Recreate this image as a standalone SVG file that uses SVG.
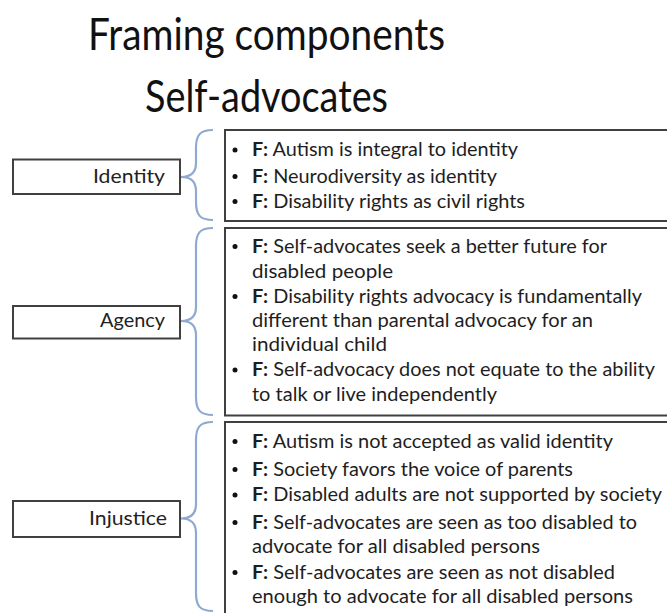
<svg xmlns="http://www.w3.org/2000/svg" width="667" height="613" viewBox="0 0 667 613">
<defs>
<style>
.title{font-family:Lato,"Liberation Sans",sans-serif;font-size:45px;fill:#111;text-anchor:middle}
.lbl{font-family:Lato,"Liberation Sans",sans-serif;font-size:19px;fill:#222;text-anchor:end}
.t{font-family:Lato,"Liberation Sans",sans-serif;font-size:19.5px;fill:#1e1e1e}
.b{font-weight:bold}
.box{fill:#fff;stroke:#404040;stroke-width:2}
.brace{fill:none;stroke:#8EAAD0;stroke-width:2.2}
.dot{fill:#111}
</style>
</defs>
<rect width="667" height="613" fill="#fff"/>
<g id="title">
<text class="title" x="266.5" y="50" textLength="357" lengthAdjust="spacingAndGlyphs">Framing components</text>
<text class="title" x="266.5" y="112" textLength="243" lengthAdjust="spacingAndGlyphs">Self-advocates</text>
</g>
<g id="connectors">
<path class="brace" d="M213 130 C200 130 196 135 196 148 L196 163 C196 173 190 177 181 177 C190 177 196 181 196 191 L196 202 C196 215 200 220 213 220"/>
<path class="brace" d="M213 228 C200 228 196 233 196 246 L196 307 C196 317 190 321 181 321 C190 321 196 325 196 335 L196 397 C196 410 200 415 213 415"/>
<path class="brace" d="M213 422 C200 422 196 427 196 440 L196 504 C196 514 190 518.5 181 518.5 C190 518.5 196 523 196 533 L196 593 C196 606 200 611 213 611"/>
</g>
<g id="identity-label">
<rect class="box" x="13" y="159.5" width="167" height="34.5"/>
<text class="lbl" x="165" y="183" textLength="72" lengthAdjust="spacingAndGlyphs">Identity</text>
</g>
<g id="identity-frames">
<rect class="box" x="225" y="130" width="460" height="91"/>
<circle class="dot" cx="235" cy="150" r="2.5"/>
<circle class="dot" cx="235" cy="176.5" r="2.5"/>
<circle class="dot" cx="235" cy="201.5" r="2.5"/>
<text class="t" x="252" y="156" textLength="266" lengthAdjust="spacingAndGlyphs"><tspan class="b">F:</tspan> Autism is integral to identity</text>
<text class="t" x="252" y="182.5" textLength="245" lengthAdjust="spacingAndGlyphs"><tspan class="b">F:</tspan> Neurodiversity as identity</text>
<text class="t" x="252" y="207.5" textLength="273" lengthAdjust="spacingAndGlyphs"><tspan class="b">F:</tspan> Disability rights as civil rights</text>
</g>
<g id="agency-label">
<rect class="box" x="13" y="306" width="167" height="32.5"/>
<text class="lbl" x="165" y="327" textLength="65" lengthAdjust="spacingAndGlyphs">Agency</text>
</g>
<g id="agency-frames">
<rect class="box" x="225" y="228" width="460" height="187.5"/>
<circle class="dot" cx="235" cy="246.5" r="2.5"/>
<circle class="dot" cx="235" cy="296.5" r="2.5"/>
<circle class="dot" cx="235" cy="370" r="2.5"/>
<text class="t" x="252" y="252.5" textLength="355" lengthAdjust="spacingAndGlyphs"><tspan class="b">F:</tspan> Self-advocates seek a better future for</text>
<text class="t" x="252" y="277.5" textLength="141" lengthAdjust="spacingAndGlyphs">disabled people</text>
<text class="t" x="252" y="302.5" textLength="390" lengthAdjust="spacingAndGlyphs"><tspan class="b">F:</tspan> Disability rights advocacy is fundamentally</text>
<text class="t" x="252" y="326.5" textLength="341" lengthAdjust="spacingAndGlyphs">different than parental advocacy for an</text>
<text class="t" x="252" y="351" textLength="135" lengthAdjust="spacingAndGlyphs">individual child</text>
<text class="t" x="252" y="376" textLength="403" lengthAdjust="spacingAndGlyphs"><tspan class="b">F:</tspan> Self-advocacy does not equate to the ability</text>
<text class="t" x="252" y="401" textLength="245" lengthAdjust="spacingAndGlyphs">to talk or live independently</text>
</g>
<g id="injustice-label">
<rect class="box" x="13" y="501" width="167" height="36"/>
<text class="lbl" x="167" y="525" textLength="78" lengthAdjust="spacingAndGlyphs">Injustice</text>
</g>
<g id="injustice-frames">
<rect class="box" x="225" y="422" width="460" height="210"/>
<circle class="dot" cx="235" cy="441.5" r="2.5"/>
<circle class="dot" cx="235" cy="469.5" r="2.5"/>
<circle class="dot" cx="235" cy="495" r="2.5"/>
<circle class="dot" cx="235" cy="522.5" r="2.5"/>
<circle class="dot" cx="235" cy="572.5" r="2.5"/>
<text class="t" x="252" y="447.5" textLength="361" lengthAdjust="spacingAndGlyphs"><tspan class="b">F:</tspan> Autism is not accepted as valid identity</text>
<text class="t" x="252" y="475.5" textLength="321" lengthAdjust="spacingAndGlyphs"><tspan class="b">F:</tspan> Society favors the voice of parents</text>
<text class="t" x="252" y="501" textLength="410" lengthAdjust="spacingAndGlyphs"><tspan class="b">F:</tspan> Disabled adults are not supported by society</text>
<text class="t" x="252" y="528.5" textLength="385" lengthAdjust="spacingAndGlyphs"><tspan class="b">F:</tspan> Self-advocates are seen as too disabled to</text>
<text class="t" x="252" y="552.5" textLength="288" lengthAdjust="spacingAndGlyphs">advocate for all disabled persons</text>
<text class="t" x="252" y="578.5" textLength="363" lengthAdjust="spacingAndGlyphs"><tspan class="b">F:</tspan> Self-advocates are seen as not disabled</text>
<text class="t" x="252" y="603" textLength="381" lengthAdjust="spacingAndGlyphs">enough to advocate for all disabled persons</text>
</g>
</svg>
